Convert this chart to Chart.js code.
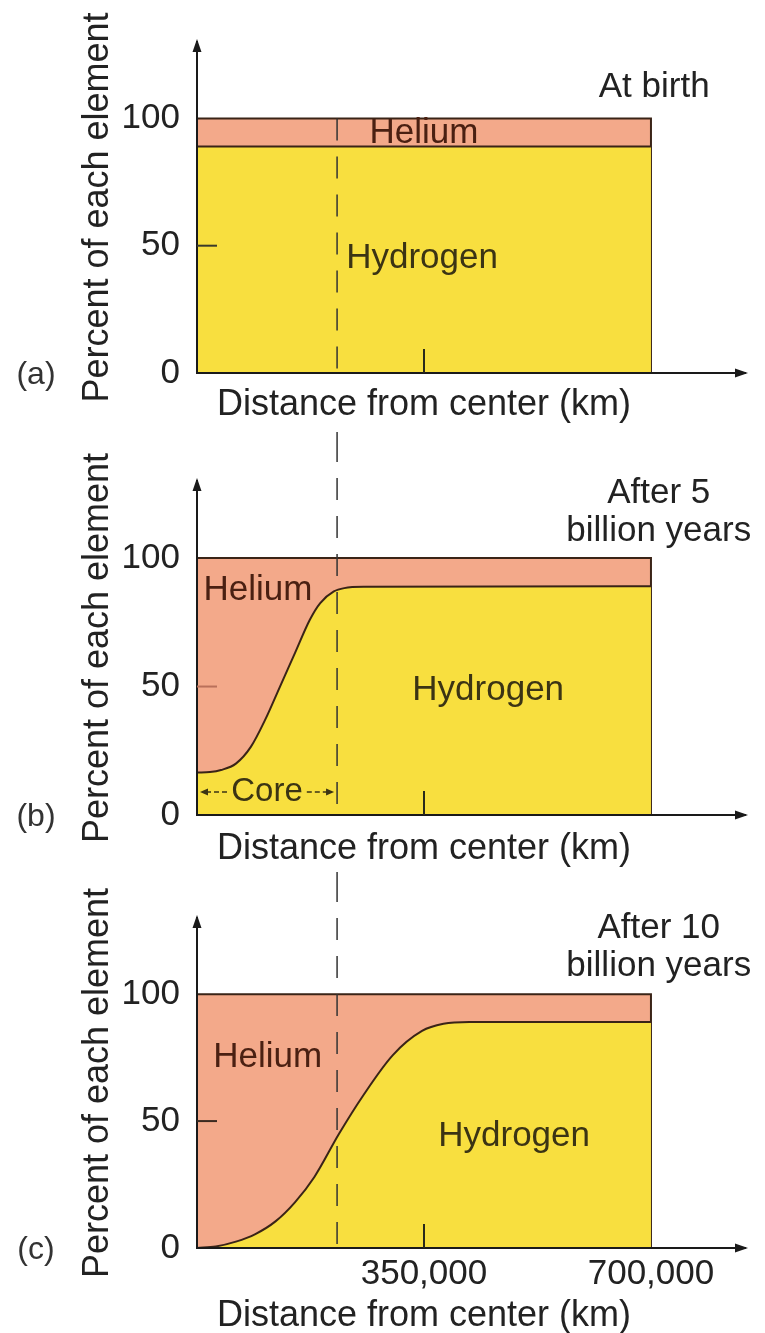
<!DOCTYPE html>
<html><head><meta charset="utf-8">
<script src="https://cdn.jsdelivr.net/npm/chart.js@4/dist/chart.umd.min.js"></script>
<style>
html,body{margin:0;padding:0;background:#fff;}
canvas{display:block;}
</style></head><body>
<canvas id="ca" width="765" height="440"></canvas>
<canvas id="cb" width="765" height="440"></canvas>
<canvas id="cc" width="765" height="453"></canvas>
<script>
// ---------- data ----------
const yTickValues = [0, 50, 100];
const xTickValues = [350000, 700000];
const coreEdgeKm = 216000;
const surfaceKm = 700000;

const heliumX = [0, 700000, 700000];
const heliumY = [100, 100, 0];

const birthX = [0, 700000];
const birthHydrogen = [89, 89];

const fiveX = [0, 20000, 37000, 60000, 83000, 105000, 128000, 151000, 174000, 190000, 211000, 227000, 258000, 700000];
const fiveHydrogen = [16.5, 16.7, 17.5, 20, 26.5, 37, 50, 63, 76, 82.5, 87, 88.3, 88.8, 89];

const tenX = [0, 29000, 60000, 90000, 121000, 151000, 181000, 219000, 256000, 302000, 347000, 380000, 420000, 700000];
const tenHydrogen = [0, 0.6, 2.5, 5.5, 10.5, 18, 28, 45, 60, 76, 85.5, 88.3, 89, 89];

// ---------- styles ----------
const FONT = "'Liberation Sans', Arial, Helvetica, sans-serif";
const YELLOW = '#F8DF3F';
const SALMON = '#F3A98A';
const EDGE = '#3a2417';
const AXIS = '#1a1a1a';
const TXT = '#222222';
const HE_TXT = '#4a2012';
const H_TXT = '#3b3414';

const decor = {
  id: 'decor',
  afterDraw(chart, args, o) {
    const {ctx, chartArea: ca, scales: {x, y}} = chart;
    ctx.save();
    // inward tick marks
    ctx.lineWidth = 2;
    ctx.strokeStyle = o.tickColor;
    ctx.beginPath();
    y.ticks.forEach(t => {
      if (t.value > 0 && t.value < 100) {
        const py = y.getPixelForValue(t.value);
        ctx.moveTo(ca.left, py); ctx.lineTo(ca.left + 20, py);
      }
    });
    ctx.stroke();
    ctx.strokeStyle = '#2a2a1a';
    ctx.beginPath();
    const tx = x.getPixelForValue(xTickValues[0]);
    ctx.moveTo(tx, ca.bottom); ctx.lineTo(tx, ca.bottom - 24);
    ctx.stroke();

    // dashed core boundary
    const dx = x.getPixelForValue(coreEdgeKm);
    ctx.strokeStyle = '#333';
    ctx.lineWidth = 1.5;
    ctx.setLineDash([22, 16]);
    o.dashSegments.forEach(seg => {
      const top = seg[0] === 'v100' ? y.getPixelForValue(100) : seg[0];
      const bot = seg[1] === 'axis' ? ca.bottom : seg[1];
      ctx.beginPath(); ctx.moveTo(dx, top); ctx.lineTo(dx, bot); ctx.stroke();
    });
    ctx.setLineDash([]);

    // axis arrowheads
    ctx.fillStyle = AXIS;
    ctx.beginPath();
    ctx.moveTo(ca.left, ca.top - 3); ctx.lineTo(ca.left - 4.5, ca.top + 10); ctx.lineTo(ca.left + 4.5, ca.top + 10); ctx.closePath(); ctx.fill();
    ctx.beginPath();
    ctx.moveTo(ca.right + 3, ca.bottom); ctx.lineTo(ca.right - 10, ca.bottom - 4.5); ctx.lineTo(ca.right - 10, ca.bottom + 4.5); ctx.closePath(); ctx.fill();

    // x axis title centred under the star profile
    ctx.font = '36px ' + FONT;
    ctx.fillStyle = TXT; ctx.textAlign = 'center'; ctx.textBaseline = 'middle';
    ctx.fillText('Distance from center (km)', x.getPixelForValue(xTickValues[0]), o.xTitleY);

    // in-plot labels
    o.labels.forEach(l => {
      ctx.font = (l.size || 35) + 'px ' + FONT;
      ctx.fillStyle = l.color || TXT;
      ctx.fillText(l.text, x.getPixelForValue(l.x), y.getPixelForValue(l.y));
    });

    // core arrow
    if (o.core) {
      const cy = y.getPixelForValue(o.core.y);
      const x0 = x.getPixelForValue(0) + 3, x1 = dx - 3;
      const cx = x.getPixelForValue(o.core.x);
      ctx.font = '33px ' + FONT;
      const w = ctx.measureText('Core').width;
      ctx.fillStyle = H_TXT;
      ctx.fillText('Core', cx, cy);
      ctx.strokeStyle = H_TXT; ctx.lineWidth = 1.5; ctx.setLineDash([5, 3]);
      ctx.beginPath(); ctx.moveTo(x0 + 6, cy); ctx.lineTo(cx - w / 2 - 4, cy);
      ctx.moveTo(cx + w / 2 + 4, cy); ctx.lineTo(x1 - 6, cy); ctx.stroke();
      ctx.setLineDash([]);
      ctx.beginPath(); ctx.moveTo(x0, cy); ctx.lineTo(x0 + 8, cy - 3.5); ctx.lineTo(x0 + 8, cy + 3.5); ctx.closePath(); ctx.fill();
      ctx.beginPath(); ctx.moveTo(x1, cy); ctx.lineTo(x1 - 8, cy - 3.5); ctx.lineTo(x1 - 8, cy + 3.5); ctx.closePath(); ctx.fill();
    }

    // panel letter
    ctx.font = '32px ' + FONT;
    ctx.fillStyle = '#333';
    ctx.fillText(o.letter, 36, ca.bottom + 2);
    ctx.restore();
  }
};

function makePanel(id, p) {
  return new Chart(document.getElementById(id), {
    type: 'line',
    data: {
      datasets: [
        { label: 'Hydrogen', data: p.hx.map((v, i) => ({x: v, y: p.hy[i]})), fill: 'origin',
          backgroundColor: YELLOW, borderColor: EDGE, borderWidth: 2, pointRadius: 0,
          cubicInterpolationMode: 'monotone' },
        { label: 'Helium', data: heliumX.map((v, i) => ({x: v, y: heliumY[i]})), fill: 'origin',
          backgroundColor: SALMON, borderColor: EDGE, borderWidth: 2, pointRadius: 0, tension: 0 }
      ]
    },
    options: {
      responsive: false, animation: false, devicePixelRatio: 1,
      layout: { padding: { left: 0, right: 20, top: p.padTop, bottom: 0 } },
      plugins: {
        legend: { display: false }, tooltip: { enabled: false },
        decor: p.decor
      },
      scales: {
        x: {
          type: 'linear', min: 0, max: 845000,
          afterBuildTicks: s => { s.ticks = xTickValues.map(v => ({value: v})); },
          afterFit: s => { s.height = p.xHeight; },
          grid: { display: false, drawTicks: false },
          border: { display: true, color: AXIS, width: 2, z: 1 },
          ticks: { display: p.xLabels, padding: 5, color: TXT, maxRotation: 0,
                   font: { family: FONT, size: 35 },
                   callback: v => v.toLocaleString('en-US') },
          title: { display: false }
        },
        y: {
          min: 0, max: 130,
          afterBuildTicks: s => { s.ticks = yTickValues.map(v => ({value: v})); },
          afterFit: s => { s.width = 197; },
          grid: { display: false, drawTicks: false },
          border: { display: true, color: AXIS, width: 2, z: 1 },
          ticks: { padding: 17, color: TXT, font: { family: FONT, size: 35 } },
          title: { display: true, text: 'Percent of each element', color: TXT,
                   font: { family: FONT, size: 36 }, padding: { top: 76, bottom: 0 } }
        }
      }
    },
    plugins: [decor]
  });
}

makePanel('ca', {
  hx: birthX, hy: birthHydrogen, padTop: 42, xHeight: 67, xLabels: false,
  decor: {
    letter: '(a)', tickColor: '#3a3a2a', xTitleY: 405,
    dashSegments: [['v100', 'axis'], [432, 440]],
    labels: [
      { text: 'At birth', x: 705000, y: 112 },
      { text: 'Helium', x: 350000, y: 94, color: HE_TXT },
      { text: 'Hydrogen', x: 347000, y: 45, color: H_TXT }
    ]
  }
});

makePanel('cb', {
  hx: fiveX, hy: fiveHydrogen, padTop: 41, xHeight: 65, xLabels: false,
  decor: {
    letter: '(b)', tickColor: '#b9705a', xTitleY: 409,
    dashSegments: [[0, 'axis'], [432, 440]],
    core: { x: 108000, y: 9 },
    labels: [
      { text: 'After 5', x: 712000, y: 125.3 },
      { text: 'billion years', x: 712000, y: 110.5 },
      { text: 'Helium', x: 94000, y: 87.5, color: HE_TXT },
      { text: 'Hydrogen', x: 449000, y: 48.6, color: H_TXT }
    ]
  }
});

makePanel('cc', {
  hx: tenX, hy: tenHydrogen, padTop: 33, xHeight: 85, xLabels: true,
  decor: {
    letter: '(c)', tickColor: '#3a2a20', xTitleY: 436,
    dashSegments: [[0, 'axis']],
    labels: [
      { text: 'After 10', x: 712000, y: 126 },
      { text: 'billion years', x: 712000, y: 111 },
      { text: 'Helium', x: 109000, y: 75, color: HE_TXT },
      { text: 'Hydrogen', x: 489000, y: 44, color: H_TXT }
    ]
  }
});
</script>
</body></html>
